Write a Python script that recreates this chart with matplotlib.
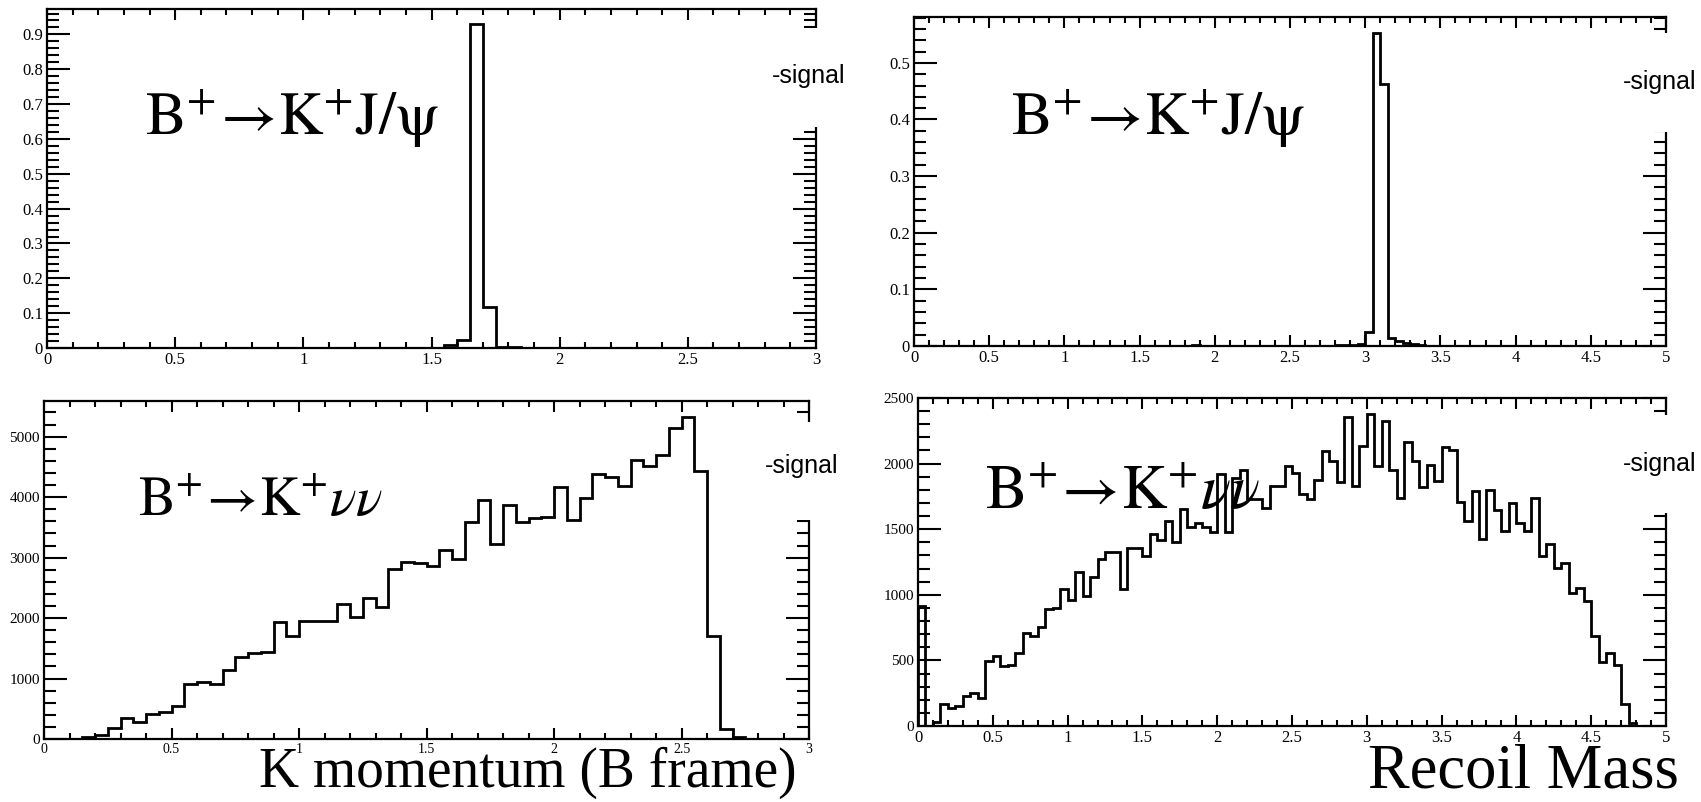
import numpy as np
import matplotlib
matplotlib.use('Agg')
import matplotlib.pyplot as plt
from matplotlib.patches import Rectangle
from matplotlib.ticker import MultipleLocator, FuncFormatter

plt.rcParams['font.family'] = ['Liberation Serif', 'DejaVu Sans']
plt.rcParams['mathtext.fontset'] = 'stix'

# bin edges (0.05 wide bins)
kmom_edges = np.linspace(0, 3, 61)
recoil_edges = np.linspace(0, 5, 101)

# K momentum in B frame, B+ -> K+ J/psi (normalised)
kmom_jpsi = [0, 0, 0, 0, 0, 0, 0, 0, 0, 0,
             0, 0, 0, 0, 0, 0, 0, 0, 0, 0,
             0, 0, 0, 0, 0, 0, 0, 0, 0, 0,
             0, 0.008, 0.022, 0.929, 0.118, 0.004, 0.003, 0.001, 0, 0,
             0, 0, 0, 0, 0, 0, 0, 0, 0, 0,
             0, 0, 0, 0, 0, 0, 0, 0, 0, 0]

# recoil mass, B+ -> K+ J/psi (normalised)
recoil_jpsi = [0, 0, 0, 0, 0, 0, 0, 0, 0, 0,
               0, 0, 0, 0, 0, 0, 0, 0, 0, 0,
               0, 0, 0, 0, 0, 0, 0, 0, 0, 0,
               0, 0, 0, 0, 0, 0, 0, 0.002, 0, 0,
               0, 0, 0, 0, 0, 0, 0, 0, 0, 0,
               0, 0, 0, 0, 0, 0, 0.002, 0.002, 0.002, 0.003,
               0.024, 0.553, 0.463, 0.015, 0.009, 0.006, 0.003, 0.001, 0, 0,
               0, 0, 0, 0, 0, 0, 0, 0, 0, 0,
               0, 0, 0, 0, 0, 0, 0, 0, 0, 0,
               0, 0, 0, 0, 0, 0, 0, 0, 0, 0]

# K momentum in B frame, B+ -> K+ nu nu (events)
kmom_nunu = [0, 0, 0, 30, 60, 190, 342, 287, 413, 452,
             551, 904, 948, 904, 1141, 1362, 1428, 1444, 1929, 1703,
             1951, 1951, 1951, 2233, 2012, 2326, 2189, 2817, 2933, 2916,
             2861, 3130, 2980, 3594, 3960, 3219, 3870, 3594, 3649, 3677,
             4173, 3622, 3980, 4383, 4339, 4184, 4614, 4515, 4691, 5138,
             5331, 4438, 1703, 160, 39, 0, 0, 0, 0, 0]

# recoil mass, B+ -> K+ nu nu (events)
recoil_nunu = [916, 0, 30, 168, 135, 155, 229, 249, 216, 496,
               534, 458, 465, 554, 712, 687, 753, 890, 898, 1048,
               961, 1177, 992, 1139, 1272, 1325, 1325, 1045, 1356, 1356,
               1299, 1462, 1414, 1559, 1401, 1655, 1516, 1549, 1516, 1482,
               1920, 1482, 1890, 1948, 1729, 1729, 1661, 1826, 1826, 1984,
               1928, 1770, 1732, 1872, 2093, 2017, 1857, 2352, 1826, 2131,
               2380, 1984, 2327, 1953, 1737, 2162, 2022, 1818, 1991, 1864,
               2124, 2100, 1707, 1559, 1788, 1427, 1800, 1643, 1488, 1699,
               1547, 1490, 1737, 1292, 1388, 1203, 1241, 1017, 1050, 956,
               687, 491, 554, 465, 168, 20, 0, 0, 0, 0]

label_jpsi = r'$\mathrm{B}^{+}\!\rightarrow\!\mathrm{K}^{+}\mathrm{J}/\mathrm{\psi}$'
label_nunu = r'$\mathrm{B}^{+}\!\rightarrow\!\mathrm{K}^{+}\nu\nu$'
legend_text = '-signal'

W, H = 1701, 802
fig = plt.figure(figsize=(W / 100, H / 100), dpi=100)


def px_axes(x0, y0, x1, y1):
    return fig.add_axes([x0 / W, 1 - y1 / H, (x1 - x0) / W, (y1 - y0) / H])


def root_style(ax, xmax, ymax, ymaj, ymin, ysize=12, xsize=12):
    ax.set_xlim(0, xmax)
    ax.set_ylim(0, ymax)
    ax.xaxis.set_major_locator(MultipleLocator(0.5))
    ax.xaxis.set_minor_locator(MultipleLocator(0.1))
    ax.yaxis.set_major_locator(MultipleLocator(ymaj))
    ax.yaxis.set_minor_locator(MultipleLocator(ymin))
    fmt = FuncFormatter(lambda v, p: f'{v:g}')
    ax.xaxis.set_major_formatter(fmt)
    ax.yaxis.set_major_formatter(fmt)
    ax.tick_params(which='both', direction='in', top=True, right=True, width=1.5)
    ax.tick_params(axis='y', which='major', length=16.5, labelsize=ysize, pad=3)
    ax.tick_params(axis='y', which='minor', length=8.5)
    ax.tick_params(axis='x', which='major', length=8, labelsize=xsize, pad=3)
    ax.tick_params(axis='x', which='minor', length=4.3)
    for s in ax.spines.values():
        s.set_linewidth(1.6)


def legend_box(spine_x, y0, y1, tx, ty):
    # white legend pad hiding part of the right axis, as in ROOT
    fig.add_artist(Rectangle(((spine_x - 30) / W, 1 - y1 / H), 60 / W, (y1 - y0) / H,
                             transform=fig.transFigure, facecolor='white',
                             edgecolor='none', zorder=5))
    fig.text(tx / W, 1 - ty / H, legend_text, family='Liberation Sans',
             fontsize=18, ha='left', va='baseline', zorder=6)


# top left
ax1 = px_axes(47, 9, 816, 348)
ax1.stairs(kmom_jpsi, kmom_edges, color='black', linewidth=2)
root_style(ax1, 3, 0.973, 0.1, 0.02)

# top right
ax2 = px_axes(914, 17, 1666, 346)
ax2.stairs(recoil_jpsi, recoil_edges, color='black', linewidth=2)
root_style(ax2, 5, 0.581, 0.1, 0.02)

# bottom left
ax3 = px_axes(44, 401, 809, 739)
ax3.stairs(kmom_nunu, kmom_edges, color='black', linewidth=2)
root_style(ax3, 3, 5590, 1000, 200, ysize=11, xsize=10)

# bottom right
ax4 = px_axes(918, 398, 1666, 726)
ax4.stairs(recoil_nunu, recoil_edges, color='black', linewidth=2)
root_style(ax4, 5, 2500, 500, 100, ysize=11, xsize=12)

legend_box(816, 28, 127, 772, 83)
legend_box(1666, 33, 132, 1623, 89)
legend_box(809, 422, 520, 765, 473)
legend_box(1666, 415, 513, 1623, 471)

fig.text(145 / W, 1 - 135 / H, label_jpsi, fontsize=44, ha='left', va='baseline')
fig.text(1011 / W, 1 - 135 / H, label_jpsi, fontsize=44, ha='left', va='baseline')
fig.text(138 / W, 1 - 516 / H, label_nunu, fontsize=40, ha='left', va='baseline')
fig.text(985 / W, 1 - 509 / H, label_nunu, fontsize=45, ha='left', va='baseline')

fig.text(528 / W, 1 - 787 / H, 'K momentum (B frame)', fontsize=40, ha='center', va='baseline')
fig.text(1368 / W, 1 - 788 / H, 'Recoil Mass', fontsize=45, ha='left', va='baseline')

fig.savefig('out.png', dpi=100, facecolor='white')
